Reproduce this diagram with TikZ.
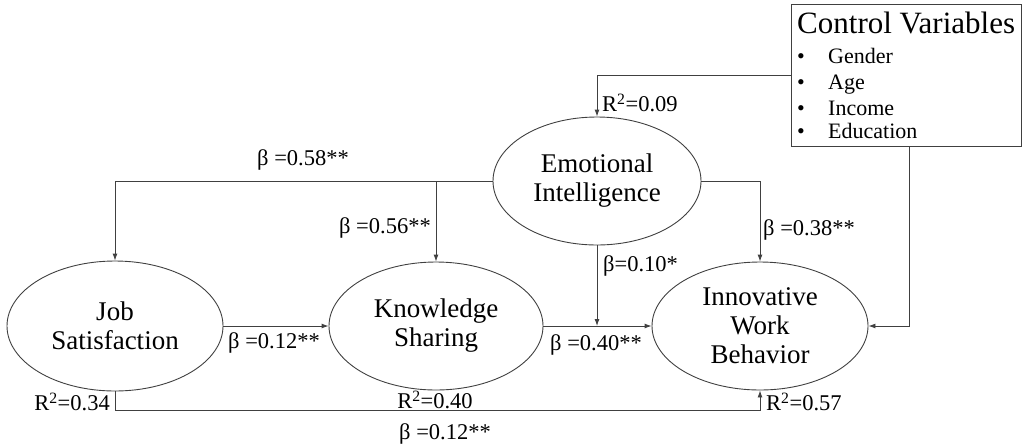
\documentclass[tikz,border=0pt]{standalone}
\usepackage{fontspec}
\setmainfont{Liberation Serif}
\usetikzlibrary{shapes.geometric,arrows.meta}
\tikzset{
  latent/.style={draw=black!75, line width=0.9pt, ellipse, inner sep=0pt, align=center,
    font=\fontsize{27}{29}\selectfont},
  link/.style={draw=black!75, line width=0.9pt, -{Latex[length=7pt,width=5pt]}},
  coef/.style={inner sep=0pt, font=\fontsize{22.5}{24}\selectfont},
  ctrlitem/.style={inner sep=0pt, anchor=base west, font=\fontsize{22}{24}\selectfont},
}
\begin{document}
\begin{tikzpicture}[x=1pt,y=-1pt]
\useasboundingbox (0,0) rectangle (1024,445);
%%% The latent variables of the model
\node[latent, minimum width=208pt, minimum height=128pt] (ei) at (597,181) {Emotional\\Intelligence};
\node[latent, minimum width=216pt, minimum height=130pt] (js) at (115,326) {Job\\Satisfaction};
\node[latent, minimum width=214pt, minimum height=128pt] (ks) at (436,326) {Knowledge\\Sharing};
\node[latent, minimum width=216pt, minimum height=128pt] (iwb) at (760,326) {Innovative\\Work\\Behavior};
%%% The box with the control variables
\node[draw=black!75, line width=0.9pt, minimum width=230pt, minimum height=142pt,
  anchor=north west, inner sep=0pt] (ctrl) at (791,4) {};
\node[inner sep=0pt, anchor=base west, font=\fontsize{31}{33}\selectfont] (ctrltitle) at (797,33) {Control Variables};
\node[ctrlitem] (b1) at (797,63) {•};
\node[ctrlitem] (gender) at (828,63) {Gender};
\node[ctrlitem] (b2) at (797,89) {•};
\node[ctrlitem] (age) at (828,89) {Age};
\node[ctrlitem] (b3) at (797,115) {•};
\node[ctrlitem] (income) at (828,115) {Income};
\node[ctrlitem] (b4) at (797,138) {•};
\node[ctrlitem] (education) at (828,138) {Education};
%%% The paths between the variables
\draw[link] (ei.west) -| (js.north);
\draw[link] (ks.north |- ei.west) -- (ks.north);
\draw[link] (ei.east) -| (iwb.north);
\draw[link] (js.east) -- (ks.west);
\draw[link] (ks.east) -- (iwb.west);
\coordinate (eidrop) at (ei.south |- ks.east);
\draw[link] (ei.south) -- (eidrop);
\coordinate (ctrlin) at (791,75);
\draw[link] (ctrlin) -| (ei.north);
\coordinate (ctrlout) at (909,146);
\draw[link] (ctrlout) |- (iwb.east);
\coordinate (low) at (0,410);
\draw[link] (js.south) -- (js.south |- low) -| (iwb.south);
%%% The coefficients
\node[coef] (b58) at (303,160) {β =0.58**};
\node[coef, anchor=east] (b56) at (431,228) {β =0.56**};
\node[coef, anchor=west] (b10) at (603,266) {β=0.10*};
\node[coef, anchor=west] (b38) at (763,230) {β =0.38**};
\node[coef, anchor=west] (b12) at (228,343) {β =0.12**};
\node[coef, anchor=west] (b40) at (550,345) {β =0.40**};
\node[coef] (b12low) at (445,434) {β =0.12**};
\node[coef, anchor=west] (r09) at (602,103) {R\textsuperscript{2}=0.09};
\node[coef, anchor=east] (r34) at (110,402) {R\textsuperscript{2}=0.34};
\node[coef] (r40) at (435,400) {R\textsuperscript{2}=0.40};
\node[coef, anchor=west] (r57) at (766,402) {R\textsuperscript{2}=0.57};
\end{tikzpicture}
\end{document}
